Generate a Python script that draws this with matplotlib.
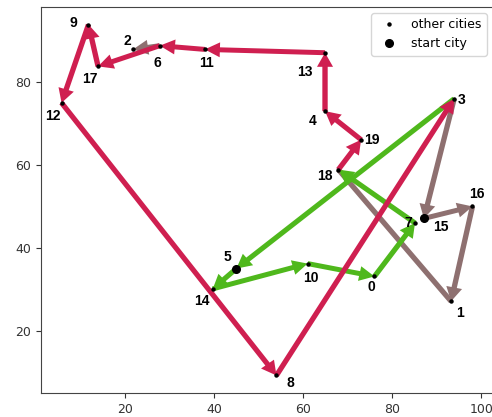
import matplotlib
matplotlib.use("Agg")
import matplotlib.pyplot as plt

# ── City coordinates (index = city id) ────────────────────────────────────────
city_x = [76.0, 93.2, 21.8, 93.9, 64.9, 45.0, 27.8, 85.1, 54.0, 11.8,
          61.0, 37.9, 5.75, 64.9, 39.7, 87.1, 98.0, 13.95, 67.9, 73.0]
city_y = [33.1, 27.1, 87.9, 76.0, 73.0, 35.0, 88.8, 46.0, 9.2, 93.9,
          36.2, 87.9, 75.0, 87.1, 30.1, 47.1, 50.0, 83.8, 58.9, 66.1]
start_cities = [5, 15]

# ── Routes (ordered city ids) ─────────────────────────────────────────────────
route_brown_a = [3, 15, 16, 1]
route_brown_link = [1, 18]     # head hidden under the green arrow at 18
route_brown_c = [6, 2]
route_green = [3, 5, 14, 10, 0, 7, 18]
route_red = [18, 19, 4, 13, 11, 6, 17, 9, 12, 8, 3]

# ── Styling ───────────────────────────────────────────────────────────────────
_RED = '#cf1f50'
_GREEN = '#4fb81c'
_BROWN = '#8e7070'

# label offsets (pixels) for each city id
_lbl_off = {0: (-3, -11), 1: (9, -12), 2: (-6, 8), 3: (7, -1), 4: (-12, -10),
            5: (-9, 12), 6: (-2, -17), 7: (-7, 0), 8: (14, -8), 9: (-15, 2),
            10: (3, -14), 11: (2, -14), 12: (-9, -13), 13: (-20, -19),
            14: (-11, -12), 15: (17, -9), 16: (4, 12), 17: (-8, -13),
            18: (-14, -6), 19: (11, 0)}

fig = plt.figure(figsize=(4.92, 4.17), dpi=100)
ax = fig.add_axes([41 / 492, 24 / 417, 452 / 492, 386 / 417])

# limits like default 5% margins
_xr = max(city_x) - min(city_x)
_yr = max(city_y) - min(city_y)
ax.set_xlim(min(city_x) - 0.05 * _xr, max(city_x) + 0.05 * _xr)
ax.set_ylim(min(city_y) - 0.05 * _yr, max(city_y) + 0.05 * _yr)


def draw_route(route, color):
    for a, b in zip(route[:-1], route[1:]):
        ax.arrow(city_x[a], city_y[a],
                 city_x[b] - city_x[a], city_y[b] - city_y[a],
                 width=1.2, head_width=3.6, head_length=3.4,
                 length_includes_head=True, color=color, lw=0, zorder=2)


draw_route(route_brown_a, _BROWN)
ax.plot([city_x[i] for i in route_brown_link], [city_y[i] for i in route_brown_link],
        color=_BROWN, lw=3.8, solid_capstyle='butt', zorder=2)
draw_route(route_brown_c, _BROWN)
draw_route(route_green, _GREEN)
draw_route(route_red, _RED)

others = [i for i in range(len(city_x)) if i not in start_cities]
ax.plot([city_x[i] for i in others], [city_y[i] for i in others],
        'o', color='black', ms=2.2, ls='none', zorder=4, label='other cities')
ax.plot([city_x[i] for i in start_cities], [city_y[i] for i in start_cities],
        'o', color='black', ms=5.5, ls='none', zorder=4, label='start city')

for i in range(len(city_x)):
    dx, dy = _lbl_off[i]
    ax.annotate(str(i), (city_x[i], city_y[i]), xytext=(dx, dy),
                textcoords='offset pixels', ha='center', va='center',
                fontsize=10, fontweight='bold', family='Liberation Sans',
                zorder=5)

ax.set_xticks([20, 40, 60, 80, 100])
ax.set_yticks([20, 40, 60, 80])
ax.tick_params(labelsize=9, colors='#333333')
for s in ax.spines.values():
    s.set_color('#444444')

ax.legend(loc='upper right', fontsize=9)

fig.savefig('out.png', dpi=100)
